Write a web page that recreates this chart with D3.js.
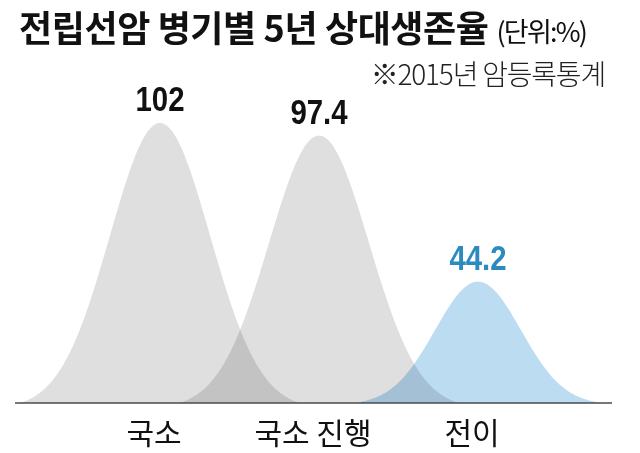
<!DOCTYPE html>
<html>
<head>
<meta charset="utf-8">
<script src="https://cdn.jsdelivr.net/npm/d3@7"></script>
<style>
  body { margin: 0; background: #fff; }
  svg { display: block; }
  .curve { mix-blend-mode: multiply; }
</style>
</head>
<body>
<div id="chart"></div>
<script>
'use strict'

// data
const stages = ['국소', '국소 진행', '전이']
const survival = [102, 97.4, 44.2]
const labelText = ['102', '97.4', '44.2']

const title = '전립선암 병기별 5년 상대생존율'
const unit = '(단위:%)'
const source = '※2015년 암등록통계'

function bells(selector = '#chart') {

    const svgWidth = 640
    const svgHeight = 453
    const baseY = 403

    const svg = d3.select(selector)
        .append('svg')
        .attr('width', svgWidth)
        .attr('height', svgHeight)

    // scales
    const xScale = d3.scalePoint()
        .domain(stages)
        .range([160, 478])

    const yScale = d3.scaleLinear()
        .domain([0, 102])
        .range([baseY, 123])

    const fills = ['#dfdfe0', '#dfdfe0', '#bcdcf2']
    const sigma = [50, 50, 43]
    const half = [140, 140, 125]

    // bell shape, pulled down to zero at the ends
    function shape(dx, s, w) {
        const g = Math.exp(-dx * dx / (2 * s * s))
        const gw = Math.exp(-w * w / (2 * s * s))
        return Math.max(0, (g - gw) / (1 - gw))
    }

    const area = d3.area()
        .x(d => d.x)
        .y0(baseY)
        .y1(d => d.y)
        .curve(d3.curveMonotoneX)

    stages.forEach((s, i) => {
        const cx = xScale(s)
        const pts = d3.range(-half[i], half[i] + 0.1, 2).map(dx => ({
            x: cx + dx,
            y: yScale(survival[i] * shape(dx, sigma[i], half[i]))
        }))
        svg.append('path')
            .attr('class', 'curve')
            .attr('d', area(pts))
            .attr('fill', fills[i])
    })

    // baseline
    svg.append('line')
        .attr('x1', 15)
        .attr('x2', 612)
        .attr('y1', baseY)
        .attr('y2', baseY)
        .attr('stroke', '#4a4a4a')
        .attr('stroke-width', 1.5)

    // value labels (narrowed to match the condensed face)
    svg.selectAll('.val')
        .data(stages)
        .join('text')
        .attr('class', 'val')
        .attr('transform', (d, i) => `translate(${xScale(d)},${yScale(survival[i]) - 12}) scale(0.84,1)`)
        .attr('text-anchor', 'middle')
        .attr('font-family', '"Liberation Sans", Arial, sans-serif')
        .attr('font-weight', 'bold')
        .attr('font-size', 35)
        .attr('fill', (d, i) => i === 2 ? '#2b8bbf' : '#111')
        .text((d, i) => labelText[i])

    // category labels
    svg.selectAll('.cat')
        .data(stages)
        .join('text')
        .attr('class', 'cat')
        .attr('x', d => xScale(d) - 6)
        .attr('y', 444)
        .attr('text-anchor', 'middle')
        .attr('font-family', '"Noto Sans CJK KR", sans-serif')
        .attr('font-size', 30)
        .attr('fill', '#111')
        .text(d => d)

    // title
    const t = svg.append('text')
        .attr('x', 19)
        .attr('y', 42)
        .attr('font-family', '"Noto Sans CJK KR", sans-serif')
        .attr('fill', '#111')
    t.append('tspan')
        .attr('font-weight', 'bold')
        .attr('font-size', 36)
        .attr('letter-spacing', -0.4)
        .text(title)
    t.append('tspan')
        .attr('dx', 8)
        .attr('font-size', 27)
        .attr('letter-spacing', -1.8)
        .text(unit)

    svg.append('text')
        .attr('x', 605)
        .attr('y', 85)
        .attr('text-anchor', 'end')
        .attr('font-family', '"Noto Sans CJK KR", sans-serif')
        .attr('font-weight', 300)
        .attr('font-size', 28)
        .attr('letter-spacing', -1.2)
        .attr('fill', '#222')
        .text(source)
}

bells()
</script>
</body>
</html>
